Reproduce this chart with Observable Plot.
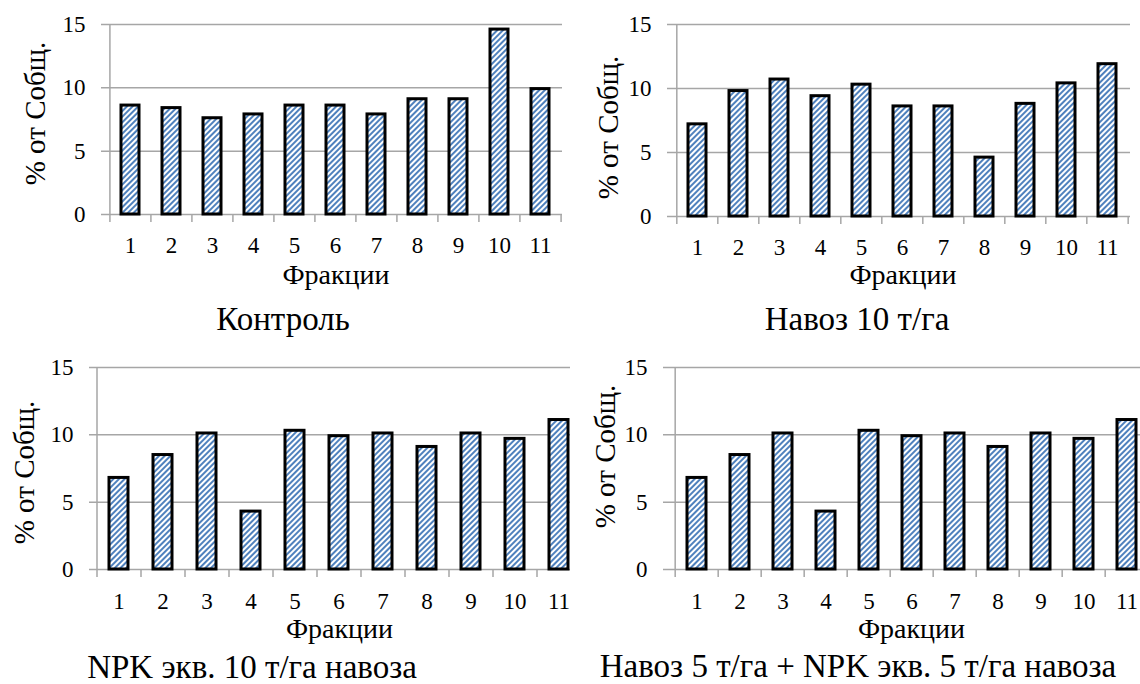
<!DOCTYPE html>
<html><head><meta charset="utf-8">
<script src="https://cdn.jsdelivr.net/npm/d3@7"></script>
<script src="https://cdn.jsdelivr.net/npm/@observablehq/plot@0.6"></script>
<style>
body{margin:0;background:#fff;}
#root{position:relative;width:1140px;height:684px;overflow:hidden;font-family:"Liberation Serif","Times New Roman",serif;background:#fff;}
.panel{position:absolute;overflow:hidden;}
.panel svg{max-width:none !important;}
.title{position:absolute;transform:translateX(-50%);white-space:nowrap;color:#000;line-height:1;}
</style></head><body>
<svg width="0" height="0" style="position:absolute"><defs>
<pattern id="hatch" patternUnits="userSpaceOnUse" width="4" height="4" patternTransform="rotate(45)">
<rect width="4" height="4" fill="#ffffff"/><rect width="2" height="4" fill="#4f81bd"/>
</pattern></defs></svg>
<div id="root"></div>
<script>
// ---- data ----
const fractions = ["1","2","3","4","5","6","7","8","9","10","11"];
const control = [8.6, 8.4, 7.6, 7.9, 8.6, 8.6, 7.9, 9.1, 9.1, 14.6, 9.9];
const manure10 = [7.2, 9.8, 10.7, 9.4, 10.3, 8.6, 8.6, 4.6, 8.8, 10.4, 11.9];
const npk10 = [6.8, 8.5, 10.1, 4.3, 10.3, 9.9, 10.1, 9.1, 10.1, 9.7, 11.1];
const manure5npk5 = [6.8, 8.5, 10.1, 4.3, 10.3, 9.9, 10.1, 9.1, 10.1, 9.7, 11.1];
const yTicks = [0, 5, 10, 15];
const titles = ["Контроль", "Навоз 10 т/га", "NPK экв. 10 т/га навоза", "Навоз 5 т/га + NPK экв. 5 т/га навоза"];
const xLabel = "Фракции";
const yLabel = "% от Собщ.";

// ---- layout ----
const layouts = [
  {values: control, left: 0, top: 0, width: 570, ml: 109, mr: 8, mt: 24, zero: 214, tickPad: 22, xlDy: 61, ylDx: -74, ylDy: -6, tx: 283, ty: 320},
  {values: manure10, left: 570, top: 0, width: 570, ml: 105, mr: 10, mt: 24, zero: 216, tickPad: 22, xlDy: 59, ylDx: -67, ylDy: 7, tx: 857, ty: 320},
  {values: npk10, left: 0, top: 342, width: 584, ml: 97, mr: 3, mt: 25, zero: 227, tickPad: 23, xlDy: 60, ylDx: -73, ylDy: 4, tx: 252, ty: 668},
  {values: manure5npk5, left: 570, top: 342, width: 590, ml: 101, mr: 9, mt: 25, zero: 227, tickPad: 23, xlDy: 60, ylDx: -66, ylDy: -12, tx: 858, ty: 667}
];
const H = 312;
const grey = "#a6a6a6";
const titleSize = 33;
const xLabelSize = 28;
const yLabelSize = 29;
const tickSize = 23;
const root = document.getElementById("root");

layouts.forEach((L, k) => {
  const n = fractions.length;
  const step = (L.width - L.ml - L.mr) / n;
  const data = fractions.map((f, i) => ({f, v: L.values[i]}));
  const chart = Plot.plot({
    width: L.width, height: H,
    marginLeft: L.ml, marginRight: L.mr, marginTop: L.mt, marginBottom: H - L.zero,
    style: {fontFamily: "'Liberation Serif', 'Times New Roman', serif", fontSize: tickSize + "px", color: "#000", background: "transparent", maxWidth: "none"},
    x: {type: "band", domain: fractions, paddingInner: 0.56, paddingOuter: 0.28, label: null, axis: null},
    y: {domain: [0, 15], label: null, axis: null},
    marks: [
      Plot.ruleY(yTicks, {stroke: grey, strokeWidth: 1.5, insetLeft: -8}),
      Plot.ruleX([fractions[0]], {dx: -step / 2, y1: 0, y2: 15, stroke: grey, strokeWidth: 1.5}),
      Plot.axisX(fractions, {tickSize: 8, dx: -step / 2, tickFormat: () => "", stroke: grey, strokeWidth: 1.5, label: null}),
      Plot.axisX([fractions[n - 1]], {tickSize: 8, dx: step / 2, tickFormat: () => "", stroke: grey, strokeWidth: 1.5, label: null}),
      Plot.axisX({tickSize: 0, tickPadding: L.tickPad, fontSize: tickSize, label: null}),
      Plot.axisY({ticks: yTicks, tickSize: 0, tickPadding: 24, fontSize: tickSize, label: null}),
      Plot.barY(data, {x: "f", y: "v", fill: "url(#hatch)", stroke: "#000", strokeWidth: 3}),
      Plot.text([xLabel], {frameAnchor: "bottom", textAnchor: "middle", lineAnchor: "middle", dy: L.xlDy, fontSize: xLabelSize}),
      Plot.text([yLabel], {frameAnchor: "left", textAnchor: "middle", lineAnchor: "middle", dx: L.ylDx, dy: L.ylDy, rotate: -90, fontSize: yLabelSize})
    ]
  });
  const wrap = document.createElement("div");
  wrap.className = "panel";
  wrap.style.left = L.left + "px";
  wrap.style.top = L.top + "px";
  wrap.style.width = "570px";
  wrap.style.height = H + "px";
  wrap.appendChild(chart);
  root.appendChild(wrap);

  const t = document.createElement("div");
  t.className = "title";
  t.textContent = titles[k];
  t.style.fontSize = titleSize + "px";
  t.style.left = L.tx + "px";
  t.style.top = (L.ty - 0.51 * titleSize) + "px";
  root.appendChild(t);
});
</script>
</body></html>
